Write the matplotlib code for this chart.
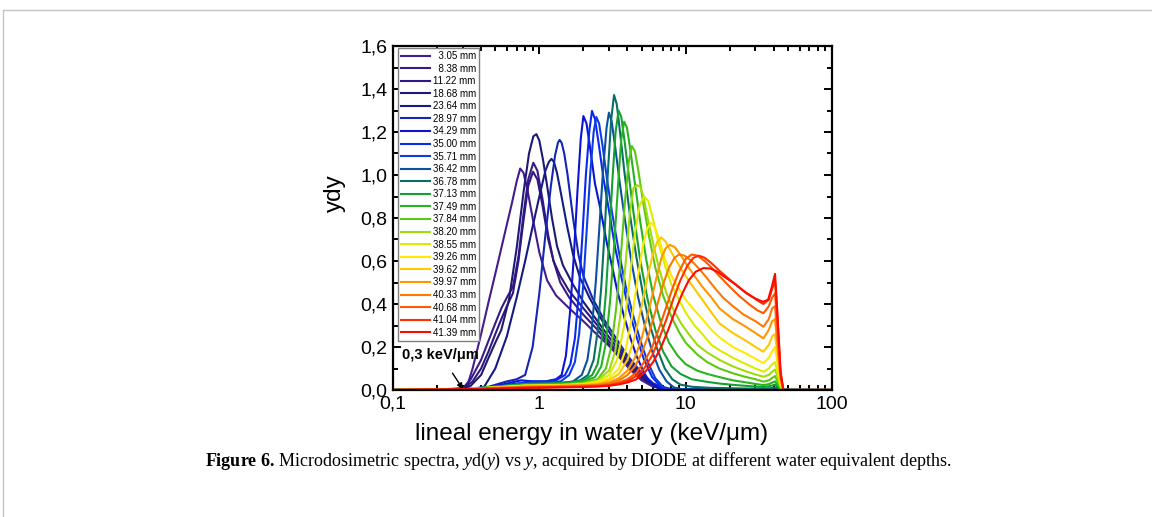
"""
Microdosimetric spectra yd(y) vs y at different water equivalent depths
"""

import matplotlib
matplotlib.use('Agg')
import matplotlib.pyplot as plt
from matplotlib.ticker import FuncFormatter, MultipleLocator, LogLocator
from matplotlib.lines import Line2D

depths = ['3.05', '8.38', '11.22', '18.68', '23.64', '28.97', '34.29', '35.00',
          '35.71', '36.42', '36.78', '37.13', '37.49', '37.84', '38.20', '38.55',
          '39.26', '39.62', '39.97', '40.33', '40.68', '41.04', '41.39']
colors = ['#441c8e', '#381a86', '#2c187e', '#1e1a74', '#141c82', '#1426b4',
          '#0c14d2', '#0a28f0', '#0c3ce6', '#0c50a0', '#0a6e64', '#14a032',
          '#28b41e', '#5ac814', '#a0dc0a', '#dcec00', '#ffea00', '#ffc800',
          '#ff9600', '#ff7800', '#ff5a00', '#ff3000', '#ff0a00']

# lineal energy (keV/um) and yd(y)
x01 = [0.1, 0.2, 0.28, 0.32, 0.35, 0.4, 0.45, 0.5, 0.55, 0.6, 0.65, 0.7, 0.74, 0.78, 0.83, 0.9, 1.0, 1.13, 1.3, 1.6, 2.0, 2.5, 3.0, 3.6, 4.2, 5.0, 6.0, 7.5, 10, 100]
y01 = [0.0, 0.002, 0.005, 0.015, 0.1, 0.26, 0.41, 0.54, 0.66, 0.77, 0.87, 0.97, 1.03, 1.01, 0.93, 0.80, 0.64, 0.51, 0.44, 0.38, 0.32, 0.255, 0.205, 0.145, 0.093, 0.045, 0.015, 0.003, 0.0, 0.0]
x02 = [0.1, 0.2, 0.3, 0.34, 0.4, 0.45, 0.5, 0.55, 0.6, 0.66, 0.72, 0.78, 0.84, 0.91, 0.97, 1.05, 1.15, 1.25, 1.39, 1.6, 2.0, 2.5, 3.0, 3.5, 4.0, 5.0, 6.0, 7.0, 9.0, 100]
y02 = [0.0, 0.002, 0.008, 0.05, 0.14, 0.23, 0.31, 0.38, 0.43, 0.48, 0.62, 0.82, 0.98, 1.057, 1.02, 0.89, 0.72, 0.60, 0.50, 0.43, 0.35, 0.28, 0.21, 0.16, 0.115, 0.055, 0.02, 0.006, 0.0, 0.0]
x03 = [0.1, 0.2, 0.3, 0.35, 0.4, 0.45, 0.5, 0.55, 0.6, 0.66, 0.72, 0.78, 0.84, 0.905, 0.97, 1.05, 1.15, 1.25, 1.39, 1.6, 2.0, 2.5, 3.0, 3.5, 4.0, 5.0, 6.0, 7.0, 9.0, 100]
y03 = [0.0, 0.002, 0.006, 0.04, 0.1, 0.18, 0.26, 0.33, 0.39, 0.45, 0.6, 0.79, 0.95, 1.015, 0.98, 0.86, 0.70, 0.60, 0.53, 0.46, 0.38, 0.30, 0.225, 0.17, 0.125, 0.06, 0.022, 0.006, 0.0, 0.0]
x04 = [0.1, 0.2, 0.3, 0.34, 0.4, 0.45, 0.5, 0.55, 0.62, 0.7, 0.78, 0.85, 0.91, 0.955, 1.0, 1.06, 1.13, 1.22, 1.32, 1.45, 1.7, 2.0, 2.5, 3.0, 3.5, 4.0, 5.0, 6.0, 7.0, 9.0, 100]
y04 = [0.0, 0.002, 0.005, 0.02, 0.07, 0.15, 0.22, 0.28, 0.42, 0.66, 0.92, 1.10, 1.18, 1.19, 1.16, 1.07, 0.95, 0.80, 0.67, 0.58, 0.49, 0.41, 0.32, 0.245, 0.185, 0.135, 0.065, 0.025, 0.007, 0.0, 0.0]
x05 = [0.1, 0.3, 0.38, 0.42, 0.5, 0.6, 0.7, 0.8, 0.9, 1.0, 1.1, 1.16, 1.21, 1.26, 1.32, 1.4, 1.55, 1.7, 1.9, 2.2, 2.6, 3.0, 3.5, 4.0, 5.0, 6.0, 7.0, 9.0, 100]
y05 = [0.0, 0.004, 0.008, 0.015, 0.1, 0.25, 0.43, 0.6, 0.76, 0.9, 1.02, 1.06, 1.075, 1.06, 1.01, 0.92, 0.76, 0.63, 0.52, 0.43, 0.34, 0.27, 0.2, 0.15, 0.075, 0.03, 0.01, 0.0, 0.0]
x06 = [0.1, 0.3, 0.45, 0.6, 0.7, 0.8, 0.9, 1.0, 1.1, 1.2, 1.28, 1.34, 1.376, 1.42, 1.48, 1.56, 1.7, 1.85, 2.0, 2.3, 2.7, 3.0, 3.5, 4.0, 5.0, 6.0, 7.0, 8.0, 100]
y06 = [0.0, 0.003, 0.015, 0.04, 0.05, 0.07, 0.2, 0.45, 0.72, 0.95, 1.09, 1.15, 1.163, 1.15, 1.1, 1.0, 0.8, 0.63, 0.53, 0.43, 0.34, 0.29, 0.22, 0.16, 0.08, 0.03, 0.01, 0.0, 0.0]
x07 = [0.1, 0.3, 0.45, 0.6, 0.75, 0.9, 1.1, 1.3, 1.42, 1.52, 1.62, 1.72, 1.82, 1.92, 2.0, 2.1, 2.22, 2.4, 2.6, 2.9, 3.2, 3.4, 3.8, 4.2, 4.6, 5.2, 5.7, 6.5, 8.0, 100]
y07 = [0.0, 0.003, 0.012, 0.03, 0.045, 0.04, 0.04, 0.05, 0.07, 0.16, 0.36, 0.62, 0.92, 1.17, 1.274, 1.24, 1.13, 0.96, 0.85, 0.68, 0.55, 0.465, 0.34, 0.24, 0.16, 0.08, 0.035, 0.008, 0.0, 0.0]
x08 = [0.1, 0.3, 0.5, 0.7, 0.9, 1.1, 1.3, 1.5, 1.63, 1.75, 1.86, 1.97, 2.08, 2.2, 2.29, 2.4, 2.54, 2.75, 3.0, 3.3, 3.65, 4.1, 4.6, 5.2, 5.9, 6.7, 7.5, 100]
y08 = [0.0, 0.003, 0.015, 0.03, 0.04, 0.04, 0.045, 0.07, 0.12, 0.24, 0.45, 0.72, 1.0, 1.21, 1.298, 1.26, 1.15, 0.98, 0.83, 0.66, 0.52, 0.37, 0.25, 0.14, 0.06, 0.018, 0.004, 0.0]
x09 = [0.1, 0.3, 0.5, 0.7, 0.9, 1.2, 1.4, 1.6, 1.75, 1.87, 1.99, 2.11, 2.23, 2.35, 2.45, 2.56, 2.7, 2.9, 3.15, 3.5, 3.9, 4.4, 4.9, 5.5, 6.2, 7.0, 8.0, 100]
y09 = [0.0, 0.003, 0.015, 0.028, 0.035, 0.035, 0.04, 0.07, 0.13, 0.26, 0.48, 0.75, 1.01, 1.2, 1.27, 1.24, 1.14, 0.98, 0.82, 0.64, 0.48, 0.34, 0.23, 0.13, 0.055, 0.015, 0.003, 0.0]
x10 = [0.1, 0.3, 0.5, 0.8, 1.1, 1.4, 1.7, 1.95, 2.13, 2.28, 2.43, 2.58, 2.73, 2.88, 2.99, 3.12, 3.3, 3.55, 3.85, 4.25, 4.7, 5.3, 5.9, 6.6, 7.4, 8.3, 9.5, 100]
y10 = [0.0, 0.003, 0.015, 0.028, 0.03, 0.032, 0.04, 0.07, 0.14, 0.28, 0.5, 0.77, 1.03, 1.22, 1.29, 1.25, 1.13, 0.96, 0.79, 0.6, 0.44, 0.29, 0.18, 0.095, 0.04, 0.012, 0.003, 0.0]
x11 = [0.1, 0.3, 0.5, 0.8, 1.2, 1.6, 1.9, 2.15, 2.35, 2.5, 2.65, 2.8, 2.95, 3.1, 3.24, 3.38, 3.56, 3.82, 4.15, 4.6, 5.1, 5.7, 6.4, 7.2, 8.1, 9.2, 11, 15, 25, 34, 38, 40.8, 43, 46, 100]
y11 = [0.0, 0.003, 0.015, 0.028, 0.03, 0.035, 0.045, 0.07, 0.14, 0.27, 0.48, 0.75, 1.03, 1.26, 1.372, 1.33, 1.2, 1.01, 0.82, 0.62, 0.45, 0.3, 0.19, 0.1, 0.05, 0.025, 0.015, 0.01, 0.007, 0.006, 0.008, 0.012, 0.006, 0.0, 0.0]
x12 = [0.1, 0.3, 0.5, 0.8, 1.2, 1.6, 2.0, 2.3, 2.5, 2.68, 2.85, 3.0, 3.16, 3.32, 3.48, 3.63, 3.82, 4.1, 4.45, 4.9, 5.5, 6.2, 7.0, 8.0, 9.2, 11, 14, 17, 21, 25, 30, 34, 37, 39, 40.8, 42.5, 44.5, 46.5, 100]
y12 = [0.0, 0.003, 0.015, 0.028, 0.03, 0.035, 0.045, 0.07, 0.12, 0.24, 0.45, 0.7, 0.98, 1.2, 1.30, 1.27, 1.16, 0.99, 0.8, 0.6, 0.42, 0.28, 0.18, 0.11, 0.075, 0.05, 0.038, 0.03, 0.024, 0.02, 0.016, 0.014, 0.017, 0.021, 0.025, 0.015, 0.004, 0.0, 0.0]
x13 = [0.1, 0.3, 0.5, 0.8, 1.2, 1.6, 2.0, 2.4, 2.65, 2.85, 3.05, 3.25, 3.45, 3.62, 3.8, 3.97, 4.18, 4.5, 4.9, 5.4, 6.0, 6.8, 7.7, 8.8, 10, 12, 14, 17, 21, 25, 30, 34, 37, 39, 40.8, 42.5, 44.5, 46.5, 100]
y13 = [0.0, 0.003, 0.015, 0.025, 0.028, 0.03, 0.04, 0.06, 0.11, 0.22, 0.42, 0.68, 0.95, 1.16, 1.248, 1.22, 1.12, 0.96, 0.78, 0.6, 0.44, 0.31, 0.22, 0.16, 0.12, 0.09, 0.075, 0.06, 0.045, 0.037, 0.028, 0.023, 0.027, 0.034, 0.04, 0.024, 0.006, 0.0, 0.0]
x14 = [0.1, 0.3, 0.5, 0.8, 1.2, 1.6, 2.0, 2.5, 2.85, 3.1, 3.35, 3.6, 3.85, 4.08, 4.29, 4.5, 4.75, 5.1, 5.6, 6.2, 7.0, 8.0, 9.0, 10, 12, 14, 17, 21, 25, 30, 34, 37, 39, 40.8, 42.5, 44.5, 46.5, 100]
y14 = [0.0, 0.003, 0.013, 0.022, 0.025, 0.027, 0.035, 0.05, 0.1, 0.2, 0.38, 0.62, 0.88, 1.06, 1.135, 1.11, 1.02, 0.88, 0.72, 0.57, 0.44, 0.34, 0.27, 0.22, 0.165, 0.13, 0.1, 0.078, 0.063, 0.05, 0.039, 0.045, 0.056, 0.065, 0.04, 0.01, 0.0, 0.0]
x15 = [0.1, 0.3, 0.5, 0.8, 1.2, 1.6, 2.0, 2.5, 3.0, 3.3, 3.6, 3.9, 4.15, 4.4, 4.65, 4.9, 5.15, 5.5, 6.0, 6.6, 7.4, 8.3, 9.3, 10.5, 12, 14, 17, 21, 25, 30, 34, 37, 39, 40.8, 42.5, 44.5, 46.5, 100]
y15 = [0.0, 0.003, 0.012, 0.02, 0.022, 0.025, 0.03, 0.045, 0.09, 0.18, 0.36, 0.6, 0.82, 0.94, 0.953, 0.945, 0.9, 0.8, 0.68, 0.56, 0.45, 0.37, 0.31, 0.26, 0.21, 0.175, 0.14, 0.11, 0.09, 0.072, 0.062, 0.07, 0.085, 0.095, 0.06, 0.015, 0.0, 0.0]
x16 = [0.1, 0.3, 0.5, 0.8, 1.2, 1.6, 2.0, 2.5, 3.0, 3.4, 3.8, 4.15, 4.5, 4.85, 5.2, 5.55, 5.95, 6.5, 7.2, 8.0, 9.0, 10, 11.5, 13, 15, 17, 21, 25, 30, 34, 37, 39, 40.8, 42.5, 44.5, 46.5, 100]
y16 = [0.0, 0.003, 0.012, 0.02, 0.022, 0.024, 0.028, 0.04, 0.07, 0.14, 0.3, 0.52, 0.73, 0.86, 0.90, 0.88, 0.8, 0.69, 0.58, 0.49, 0.42, 0.36, 0.3, 0.26, 0.21, 0.185, 0.15, 0.125, 0.1, 0.085, 0.1, 0.12, 0.13, 0.08, 0.02, 0.0, 0.0]
x17 = [0.1, 0.3, 0.5, 0.8, 1.2, 1.6, 2.0, 2.5, 3.0, 3.5, 3.9, 4.3, 4.7, 5.1, 5.45, 5.78, 6.15, 6.6, 7.2, 8.0, 9.0, 10, 11.5, 13, 15, 17, 21, 25, 30, 34, 37, 39, 40.8, 42.5, 44.5, 46.5, 100]
y17 = [0.0, 0.003, 0.012, 0.02, 0.022, 0.024, 0.027, 0.035, 0.055, 0.1, 0.19, 0.34, 0.52, 0.67, 0.75, 0.777, 0.76, 0.7, 0.61, 0.53, 0.47, 0.42, 0.37, 0.33, 0.28, 0.245, 0.2, 0.175, 0.145, 0.125, 0.15, 0.18, 0.2, 0.12, 0.03, 0.0, 0.0]
x18 = [0.1, 0.3, 0.5, 0.8, 1.2, 1.6, 2.0, 2.5, 3.0, 3.5, 4.0, 4.5, 5.0, 5.5, 6.0, 6.4, 6.8, 7.3, 8.0, 9.0, 10, 11.5, 13, 15, 17, 21, 25, 30, 34, 37, 39, 40.8, 42.5, 44.5, 46.5, 100]
y18 = [0.0, 0.003, 0.01, 0.018, 0.02, 0.022, 0.025, 0.03, 0.045, 0.075, 0.14, 0.25, 0.39, 0.53, 0.64, 0.69, 0.71, 0.69, 0.64, 0.58, 0.53, 0.47, 0.42, 0.36, 0.31, 0.265, 0.235, 0.2, 0.178, 0.21, 0.25, 0.26, 0.16, 0.04, 0.0, 0.0]
x19 = [0.1, 0.3, 0.5, 0.8, 1.2, 1.6, 2.0, 2.5, 3.0, 3.5, 4.0, 4.5, 5.0, 5.6, 6.2, 6.8, 7.3, 7.8, 8.4, 9.2, 10, 11.5, 13, 15, 17, 21, 25, 30, 34, 37, 39, 40.8, 42.5, 44.5, 46.5, 100]
y19 = [0.0, 0.003, 0.01, 0.016, 0.018, 0.02, 0.022, 0.026, 0.035, 0.055, 0.09, 0.15, 0.24, 0.37, 0.5, 0.61, 0.66, 0.675, 0.665, 0.63, 0.59, 0.53, 0.48, 0.43, 0.38, 0.33, 0.3, 0.265, 0.24, 0.28, 0.32, 0.33, 0.2, 0.05, 0.0, 0.0]
x20 = [0.1, 0.3, 0.5, 0.8, 1.2, 1.6, 2.0, 2.5, 3.0, 3.5, 4.0, 4.5, 5.0, 5.6, 6.3, 7.0, 7.7, 8.4, 9.0, 9.8, 11, 12.5, 14, 16, 18, 21, 25, 30, 34, 37, 39, 40.8, 42.5, 44.5, 46.5, 100]
y20 = [0.0, 0.003, 0.009, 0.014, 0.016, 0.018, 0.02, 0.023, 0.03, 0.045, 0.07, 0.11, 0.17, 0.26, 0.38, 0.49, 0.57, 0.615, 0.63, 0.625, 0.6, 0.56, 0.52, 0.47, 0.43, 0.39, 0.35, 0.32, 0.294, 0.33, 0.38, 0.39, 0.24, 0.06, 0.0, 0.0]
x21 = [0.1, 0.3, 0.5, 0.8, 1.2, 1.6, 2.0, 2.5, 3.0, 3.5, 4.0, 4.6, 5.2, 5.9, 6.6, 7.4, 8.2, 9.0, 10, 11, 12, 13.5, 15, 17, 20, 23, 27, 31, 34, 37, 39, 40.8, 42.5, 44.5, 46.5, 100]
y21 = [0.0, 0.003, 0.008, 0.012, 0.014, 0.016, 0.018, 0.02, 0.025, 0.035, 0.05, 0.08, 0.13, 0.2, 0.29, 0.39, 0.48, 0.55, 0.61, 0.63, 0.625, 0.6, 0.57, 0.53, 0.48, 0.44, 0.4, 0.37, 0.357, 0.39, 0.43, 0.45, 0.28, 0.07, 0.0, 0.0]
x22 = [0.1, 0.3, 0.5, 0.8, 1.2, 1.6, 2.0, 2.5, 3.0, 3.5, 4.0, 4.6, 5.2, 5.9, 6.6, 7.4, 8.2, 9.2, 10.3, 11.3, 12.3, 13.5, 15, 17, 19.5, 22, 25, 29, 32, 34, 37, 39, 40.8, 42.5, 44.5, 46.5, 100]
y22 = [0.0, 0.003, 0.007, 0.01, 0.012, 0.014, 0.016, 0.018, 0.022, 0.03, 0.042, 0.065, 0.1, 0.16, 0.24, 0.33, 0.42, 0.51, 0.58, 0.615, 0.625, 0.615, 0.59, 0.555, 0.52, 0.49, 0.46, 0.43, 0.41, 0.40, 0.42, 0.47, 0.51, 0.32, 0.08, 0.0, 0.0]
x23 = [0.1, 0.3, 0.5, 0.8, 1.2, 1.6, 2.0, 2.5, 3.0, 3.5, 4.0, 4.6, 5.3, 6.0, 6.8, 7.6, 8.5, 9.5, 10.5, 11.7, 13.2, 14.8, 16.5, 19, 22, 26, 30, 33.8, 36.6, 38.8, 40.8, 42.5, 44.5, 46.5, 100]
y23 = [0.0, 0.003, 0.007, 0.01, 0.012, 0.013, 0.014, 0.016, 0.02, 0.026, 0.035, 0.05, 0.085, 0.13, 0.2, 0.28, 0.37, 0.45, 0.51, 0.55, 0.567, 0.565, 0.55, 0.52, 0.49, 0.45, 0.425, 0.41, 0.42, 0.48, 0.54, 0.34, 0.085, 0.0, 0.0]

xs = [x01, x02, x03, x04, x05, x06, x07, x08, x09, x10, x11, x12,
      x13, x14, x15, x16, x17, x18, x19, x20, x21, x22, x23]
ys = [y01, y02, y03, y04, y05, y06, y07, y08, y09, y10, y11, y12,
      y13, y14, y15, y16, y17, y18, y19, y20, y21, y22, y23]

plt.rcParams['font.family'] = ['Liberation Sans', 'DejaVu Sans']
plt.rcParams['mathtext.fontset'] = 'custom'
plt.rcParams['mathtext.rm'] = 'Liberation Serif'
plt.rcParams['mathtext.it'] = 'Liberation Serif:italic'
plt.rcParams['mathtext.bf'] = 'Liberation Serif:bold'

fig = plt.figure(figsize=(11.52, 5.17), dpi=100)
ax = fig.add_axes([393/1152, 1-390/517, 439/1152, 344/517])

for x, y, d, c in zip(xs, ys, depths, colors):
    lab = ('  ' if len(d) == 4 else '') + d + ' mm'
    ax.plot(x, y, color=c, lw=1.5, label=lab)

ax.set_xscale('log')
ax.set_xlim(0.1, 100)
ax.set_ylim(0, 1.6)
ax.yaxis.set_major_locator(MultipleLocator(0.2))
ax.yaxis.set_minor_locator(MultipleLocator(0.1))
ax.xaxis.set_minor_locator(LogLocator(subs=range(2, 10)))
ax.yaxis.set_major_formatter(FuncFormatter(lambda v, p: ('%.1f' % v).replace('.', ',')))
ax.xaxis.set_major_formatter(FuncFormatter(lambda v, p: '0,1' if v < 0.5 else '%d' % v))
for s in ax.spines.values():
    s.set_linewidth(1.6)
ax.tick_params(which='both', direction='in', top=True, right=True, width=1.4, labelsize=14)
ax.tick_params(which='major', length=6)
ax.tick_params(which='minor', length=3.5)
ax.tick_params(axis='x', pad=4)
ax.tick_params(axis='y', pad=4)

ax.set_xlabel('lineal energy in water y (keV/μm)', fontsize=17.5)
ax.xaxis.set_label_coords(0.452, -0.095)
ax.set_ylabel('ydy', fontsize=17.5)
ax.yaxis.set_label_coords(-0.108, 0.573)

leg = ax.legend(loc='upper left', bbox_to_anchor=(0.011, 0.994), borderaxespad=0,
                fontsize=7, labelspacing=0.265, handlelength=3.0, handletextpad=0.3,
                borderpad=0.3, fancybox=False, framealpha=1)
leg.get_frame().set_edgecolor('#808080')
leg.get_frame().set_linewidth(1.0)

ax.annotate('0,3 keV/μm', xy=(0.3, 0.005), xytext=(0.212, 0.162),
            fontsize=10.5, fontweight='bold', ha='center', va='center',
            arrowprops=dict(arrowstyle='-|>', color='k', lw=1, shrinkA=7, shrinkB=0,
                            mutation_scale=8))

# page frame
fig.add_artist(Line2D([3/1152, 1], [1-10/517, 1-10/517], color='#c4c4c4', lw=1))
fig.add_artist(Line2D([3/1152, 3/1152], [0, 1-10/517], color='#c4c4c4', lw=1))

fig.text(578/1152, 1-461/517,
         r'$\mathbf{Figure\ 6.}\,$Microdosimetric spectra, $\mathit{y}$d($\mathit{y}$) vs $\mathit{y}$, '
         'acquired by DIODE at different water equivalent depths.',
         fontsize=13, family='Liberation Serif', ha='center', va='center')

fig.savefig('out.png', dpi=100)
